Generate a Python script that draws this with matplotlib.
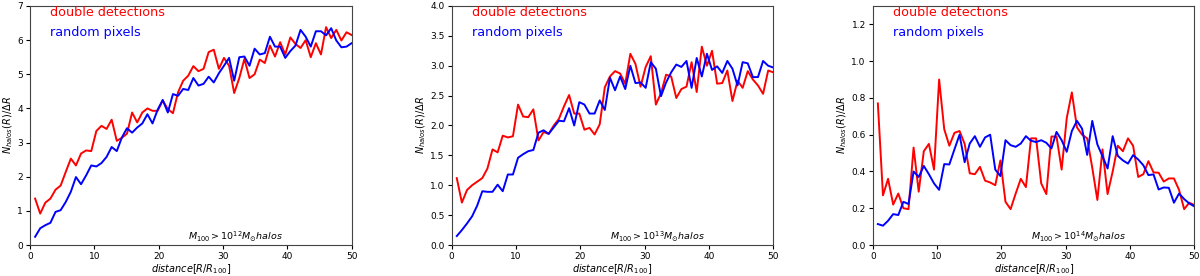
import numpy as np
import matplotlib
matplotlib.use("Agg")
import matplotlib.pyplot as plt

# distance grid: right edges of 63 bins between 0 and 50
distance = np.linspace(0, 50, 64)[1:]

double_12 = [1.36, 0.92, 1.24, 1.36, 1.62, 1.74, 2.14, 2.53, 2.33, 2.68, 2.77, 2.75,
             3.34, 3.49, 3.40, 3.67, 3.05, 3.14, 3.26, 3.88, 3.59, 3.88, 4.00, 3.93,
             3.93, 4.23, 3.98, 3.86, 4.47, 4.81, 4.96, 5.24, 5.09, 5.16, 5.65, 5.72,
             5.16, 5.48, 5.25, 4.45, 4.89, 5.45, 4.89, 5.00, 5.43, 5.33, 5.84, 5.52,
             5.94, 5.58, 6.08, 5.89, 5.77, 6.00, 5.50, 5.91, 5.58, 6.38, 6.06, 6.30,
             5.99, 6.23, 6.15]
random_12 = [0.24, 0.49, 0.58, 0.65, 0.97, 1.02, 1.26, 1.56, 1.99, 1.78, 2.04, 2.33,
             2.30, 2.40, 2.58, 2.87, 2.75, 3.15, 3.42, 3.29, 3.44, 3.56, 3.83, 3.56,
             3.96, 4.25, 3.88, 4.42, 4.37, 4.57, 4.54, 4.89, 4.67, 4.72, 4.93, 4.76,
             5.03, 5.25, 5.48, 4.81, 5.50, 5.52, 5.25, 5.75, 5.58, 5.62, 6.10, 5.81,
             5.81, 5.48, 5.68, 5.84, 6.30, 6.10, 5.81, 6.26, 6.26, 6.14, 6.35, 5.99,
             5.79, 5.81, 5.91]

double_13 = [1.12, 0.71, 0.92, 1.00, 1.06, 1.12, 1.28, 1.60, 1.55, 1.83, 1.80, 1.82,
             2.35, 2.15, 2.14, 2.27, 1.75, 1.89, 1.86, 2.00, 2.11, 2.32, 2.51, 2.20,
             2.20, 1.93, 1.96, 1.85, 2.02, 2.64, 2.82, 2.91, 2.87, 2.70, 3.20, 3.03,
             2.65, 2.98, 3.16, 2.35, 2.54, 2.85, 2.82, 2.46, 2.61, 2.65, 3.06, 2.56,
             3.32, 3.00, 3.25, 2.70, 2.71, 2.92, 2.41, 2.75, 2.63, 2.91, 2.77, 2.67,
             2.53, 2.92, 2.89]
random_13 = [0.15, 0.25, 0.36, 0.48, 0.66, 0.90, 0.89, 0.89, 1.01, 0.90, 1.18, 1.18,
             1.46, 1.52, 1.57, 1.59, 1.88, 1.92, 1.86, 1.97, 2.08, 2.07, 2.29, 2.00,
             2.39, 2.35, 2.20, 2.20, 2.42, 2.26, 2.80, 2.59, 2.82, 2.61, 3.00, 2.71,
             2.72, 2.63, 3.06, 2.95, 2.49, 2.72, 2.89, 3.02, 2.98, 3.08, 2.63, 3.13,
             2.82, 3.20, 2.93, 2.99, 2.88, 3.08, 2.95, 2.67, 3.06, 3.04, 2.81, 2.81,
             3.08, 3.00, 2.97]

double_14 = [0.77, 0.27, 0.36, 0.22, 0.28, 0.20, 0.195, 0.53, 0.29, 0.51, 0.55, 0.41,
             0.90, 0.63, 0.54, 0.61, 0.62, 0.55, 0.39, 0.385, 0.425, 0.35, 0.34, 0.325,
             0.46, 0.235, 0.195, 0.28, 0.36, 0.315, 0.58, 0.58, 0.335, 0.277, 0.59, 0.59,
             0.41, 0.69, 0.83, 0.64, 0.60, 0.58, 0.42, 0.245, 0.52, 0.277, 0.40, 0.54,
             0.51, 0.58, 0.54, 0.37, 0.385, 0.456, 0.395, 0.393, 0.345, 0.362, 0.362, 0.30,
             0.195, 0.23, 0.217]
random_14 = [0.114, 0.105, 0.132, 0.168, 0.163, 0.235, 0.223, 0.40, 0.37, 0.43, 0.385, 0.335,
             0.30, 0.44, 0.438, 0.52, 0.60, 0.45, 0.552, 0.592, 0.534, 0.585, 0.60, 0.41,
             0.375, 0.57, 0.543, 0.534, 0.552, 0.592, 0.567, 0.56, 0.57, 0.556, 0.525, 0.615,
             0.57, 0.507, 0.62, 0.675, 0.633, 0.49, 0.675, 0.547, 0.483, 0.416, 0.592, 0.485,
             0.46, 0.443, 0.489, 0.465, 0.434, 0.38, 0.384, 0.302, 0.313, 0.311, 0.23, 0.28,
             0.25, 0.226, 0.21]

mass_labels = [r"$M_{100}>10^{12}M_{\odot}halos$",
               r"$M_{100}>10^{13}M_{\odot}halos$",
               r"$M_{100}>10^{14}M_{\odot}halos$"]
ylims = [7, 4, 1.3]
yticks = [np.arange(0, 7.01, 1), np.arange(0, 4.01, 0.5), np.arange(0, 1.21, 0.2)]
ytick_fmt = ["{:.0f}", "{:.1f}", "{:.1f}"]
series = [(double_12, random_12), (double_13, random_13), (double_14, random_14)]

fig = plt.figure(figsize=(12, 2.76), dpi=100)
lefts = [0.025, 0.3764, 0.7273]
for k in range(3):
    ax = fig.add_axes([lefts[k], 0.1123, 0.268, 0.866])
    d, r = series[k]
    ax.plot(distance, d, color="red", lw=1.4)
    ax.plot(distance, r, color="blue", lw=1.4)
    ax.set_xlim(0, 50)
    ax.set_ylim(0, ylims[k])
    ax.set_yticks(yticks[k])
    ax.set_yticklabels([ytick_fmt[k].format(v) for v in yticks[k]])
    ax.set_xticks([0, 10, 20, 30, 40, 50])
    ax.tick_params(labelsize=6.5, length=3, width=0.8, pad=2)
    for s in ax.spines.values():
        s.set_linewidth(0.8)
        s.set_color("#444444")
    ax.set_xlabel(r"$distance[R/R_{100}]$", fontsize=7, labelpad=1)
    ax.set_ylabel(r"$N_{halos}(R)/\Delta R$", fontsize=7, labelpad=2)
    ax.text(0.062, 0.972, "double detections", color="red", fontsize=9.2,
            transform=ax.transAxes, va="center", ha="left")
    ax.text(0.062, 0.89, "random pixels", color="blue", fontsize=9.2,
            transform=ax.transAxes, va="center", ha="left")
    ax.text(0.64, 0.035, mass_labels[k], fontsize=6.8, transform=ax.transAxes,
            ha="center", va="center")

fig.savefig("out.png", dpi=100)
